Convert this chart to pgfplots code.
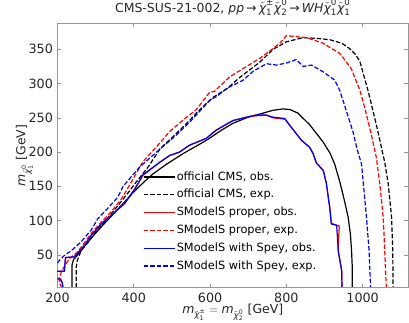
\documentclass[border=0pt]{standalone}
\usepackage{pgfplots}
\pgfplotsset{compat=1.18}
\usepackage{amsmath}
\usepackage{fontspec}
\setmainfont{DejaVu Sans}
\usetikzlibrary{calc}
\definecolor{spine}{RGB}{150,150,150}
\definecolor{bline}{RGB}{140,140,235}
\newcommand{\ch}[2]{\ensuremath{\tilde{\text{\itshape χ}}_{\text{#1}}^{\text{#2}}}}
\newcommand{\mi}{\text{\itshape m}}
\begin{document}
\begin{tikzpicture}
\begin{axis}[name=ax,
  scale only axis, width=350.5bp, height=264.4bp,
  xmin=200, xmax=1119, ymin=2, ymax=388,
  xtick={200,400,600,800,1000}, ytick={50,100,150,200,250,300,350},
  tick align=inside, major tick length=4bp,
  every tick/.style={spine, line width=0.6bp},
  axis line style={spine, line width=0.8bp},
  /pgf/number format/assume math mode=true,
  /pgf/number format/1000 sep={},
  tick label style={font=\fontsize{12.8}{15}\selectfont, text=black!85},
  xticklabel style={anchor=base, yshift=-15bp},
  yticklabel style={anchor=east, xshift=-1bp},
  title={CMS-SUS-21-002, \textit{pp}\,→\,\ch{1}{±}\ch{2}{0}\,→\,\textit{WH}\ch{1}{0}\ch{1}{0}},
  title style={font=\fontsize{12.5}{15}\selectfont, anchor=base, at={(0.5,1)}, yshift=5bp, text=black!85},
  xlabel={$\mi_{\ch{1}{±}}=\mi_{\ch{2}{0}}$ [GeV]},
  xlabel style={font=\fontsize{12.5}{15}\selectfont, anchor=base, at={(0.5,0)}, yshift=-26bp, text=black!85},
  ylabel={$\mi_{\ch{1}{0}}$ [GeV]},
  ylabel style={font=\fontsize{12.5}{15}\selectfont, anchor=base, at={(0,0.5)}, yshift=32bp, text=black!85},
  legend cell align=left,
  legend style={draw=none, fill=none, at={(0.235,0.455)}, anchor=north west,
    font=\fontsize{11.4}{14}\selectfont, row sep=2.8bp,
    nodes={inner sep=1.5bp, text height=9bp, text depth=3bp}},
  legend image code/.code={\draw[#1] (0bp,0bp) -- (25bp,0bp); \path (0bp,0bp) -- (31bp,0bp);},
  every axis plot/.append style={line width=1.2bp, line join=round},
  dsh/.style={dash pattern=on 4.5bp off 2bp},
]
% official CMS obs
\addplot[black] coordinates {(238,2) (238,35) (242,43) (250,48) (258,53) (270,62) (288,74) (310,88) (332,101) (367,122) (402,143) (428,157) (450,168) (485,182) (530,198) (590,217) (630,232) (660,242) (700,251) (740,257) (765,261) (791,263) (810,262) (830,257) (861,240) (896,215) (915,198) (927,182) (940,157) (952,130) (962,105) (968,80) (971,56) (973,30) (973,2)};
\addlegendentry{official CMS, obs.}
% official CMS exp
\addplot[black, dsh] coordinates {(249,2) (249,32) (252,42) (262,56) (280,68) (297,81) (320,96) (341,110) (376,134) (406,156) (440,180) (469,205) (500,221) (539,242) (573,262) (608,280) (643,292) (680,310) (730,331) (765,350) (800,361) (844,367) (880,366) (914,364) (945,359) (966,351) (982,342) (993,332) (1003,312) (1015,288) (1036,240) (1050,205) (1058,185) (1067,154) (1076,105) (1079,56) (1080,2)};
\addlegendentry{official CMS, exp.}
% SModelS proper obs
\addplot[red] coordinates {(200,26) (218,26) (221,46) (244,47) (271,64) (288,78) (315,96) (350,112) (376,125) (402,146) (424,166) (468,185) (494,195) (520,200) (546,210) (590,220) (616,232) (660,246) (704,252) (722,253) (747,254) (765,250) (796,248) (809,239) (840,217) (861,207) (870,198) (879,184) (897,173) (905,154) (914,118) (918,96) (939,92) (937,75) (936,56) (945,27) (946,2)};
\addlegendentry{SModelS proper, obs.}
% SModelS proper exp
\addplot[red, dsh] coordinates {(212,2) (206,8) (204,14) (210,25) (220,35) (232,45) (249,52) (262,61) (288,81) (315,98) (341,113) (367,131) (385,148) (424,186) (460,208) (494,230) (530,247) (564,262) (600,288) (610,288) (652,310) (687,322) (731,337) (765,351) (785,360) (800,370) (853,367) (896,359) (940,344) (970,322) (993,290) (1006,264) (1023,225) (1036,192) (1040,175) (1045,154) (1054,105) (1058,56) (1062,2)};
\addlegendentry{SModelS proper, exp.}
% SModelS with Spey obs
\addplot[blue] coordinates {(200,26) (218,26) (221,46) (244,47) (271,64) (288,78) (315,95) (350,112) (376,125) (402,145) (424,167) (468,185) (494,195) (520,200) (546,210) (590,220) (616,232) (660,246) (704,252) (722,254) (747,254) (765,251) (796,249) (809,239) (840,217) (861,207) (870,198) (879,184) (897,173) (905,154) (914,118) (918,95) (932,93) (936,56) (945,27) (946,2)};
\addlegendentry{SModelS with Spey, obs.}
% SModelS with Spey exp
\addplot[blue, dsh] coordinates {(200,38) (205,42) (218,49) (236,56) (262,69) (288,86) (306,103) (332,118) (358,134) (372,150) (415,178) (468,204) (512,225) (547,244) (600,276) (617,281) (644,293) (687,305) (713,318) (748,329) (774,327) (800,330) (826,335) (844,325) (866,327) (897,317) (927,305) (940,290) (958,259) (975,229) (986,203) (997,183) (1002,154) (1010,105) (1017,56) (1021,2)};
\addlegendentry{SModelS with Spey, exp.}
% small islands at bottom left
\addplot[red, forget plot] coordinates {(200,16) (208,15) (213,9) (214,2)};
\addplot[blue, forget plot] coordinates {(200,15) (208,14) (213,8) (214,2)};
\addplot[bline, line width=1.5bp, forget plot] coordinates {(200,2) (1119,2)};
\end{axis}
\pgfresetboundingbox
\useasboundingbox ($(ax.south west)+(-57.5bp,-35.3bp)$) rectangle ($(ax.north east)+(1bp,23.3bp)$);
\end{tikzpicture}
\end{document}
